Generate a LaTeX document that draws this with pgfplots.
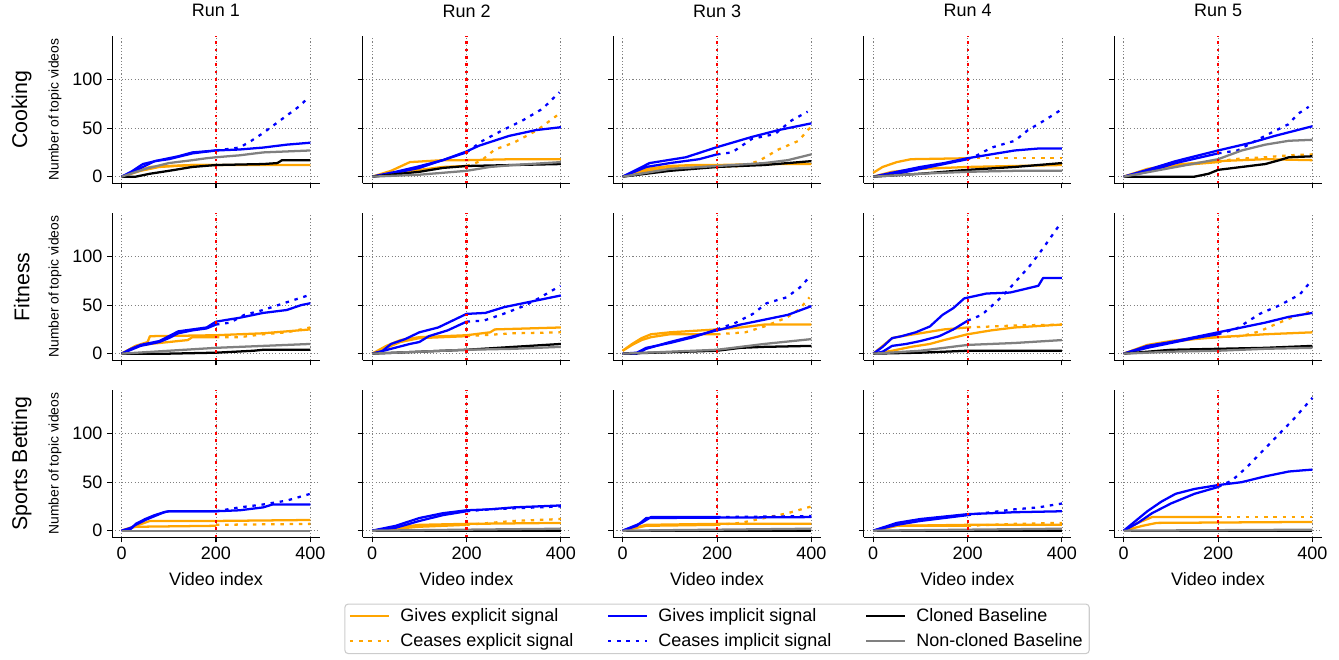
\documentclass[border=0pt]{standalone}
\usepackage{fontspec}
\setmainfont{Liberation Sans}
\usepackage{pgfplots}
\pgfplotsset{compat=1.18}
\usepgfplotslibrary{groupplots}
\definecolor{mplorange}{RGB}{255,165,0}
\definecolor{mplblue}{RGB}{0,0,255}
\definecolor{mplgray}{RGB}{128,128,128}
\definecolor{legframe}{RGB}{204,204,204}
\newcommand{\fs}{\fontsize{13.5}{16}\selectfont}
\pgfplotsset{
  ge/.style={mplorange, line width=1.7pt, line join=round, forget plot},
  ce/.style={mplorange, line width=1.7pt, dash pattern=on 2.6pt off 4.3pt, forget plot},
  gi/.style={mplblue, line width=1.7pt, line join=round, forget plot},
  ci/.style={mplblue, line width=1.7pt, dash pattern=on 2.6pt off 4.3pt, forget plot},
  cb/.style={black, line width=1.7pt, line join=round, forget plot},
  nb/.style={mplgray, line width=1.7pt, line join=round, forget plot},
  vl/.style={red, line width=1.6pt, dash pattern=on 2.1pt off 3.4pt, forget plot},
  rowlab/.style={extra description/.code={\node[rotate=90, font=\fontsize{16}{19}\selectfont] at (-0.436,0.5) {#1};}},
}
\begin{document}
\begin{tikzpicture}
\begin{groupplot}[
  group style={group size=5 by 3, horizontal sep=32.2pt, vertical sep=22.35pt,
    xticklabels at=edge bottom, yticklabels at=edge left},
  width=155.7pt, height=110.4pt, scale only axis,
  xmin=-20, xmax=420, ymin=-6.9, ymax=144.9,
  xtick={0,200,400}, ytick={0,50,100},
  axis x line*=bottom, axis y line*=left,
  axis line style={-, line width=0.8pt},
  tick align=outside, major tick length=3.75pt,
  tick style={black, line width=0.8pt},
  grid=major, grid style={mplgray, line width=0.6pt, dash pattern=on 0.8pt off 1.6pt},
  ticklabel style={font=\fs},
  /pgf/number format/assume math mode=true,
  title style={at={(0.5,1)}, anchor=center, yshift=13pt, font=\fs},
  xlabel style={at={(0.5,0)}, anchor=center, yshift=-31.3pt, font=\fs},
  ylabel style={at={(-0.2755,0.5)}, anchor=center, font=\fontsize{10.4}{12}\selectfont},
]
% ---------------- Cooking ----------------
\nextgroupplot[title={Run 1}, ylabel={Number of topic videos}, rowlab={Cooking}]
\addplot[ge] coordinates {(0,0)(30,5)(60,10)(100,11)(150,12)(200,12)(300,12)(400,12)};
\addplot[ge] coordinates {(0,0)(40,6)(80,10)(150,12)(200,12)};
\addplot[ce] coordinates {(200,12)(300,12)(400,12)};
\addplot[gi] coordinates {(0,0)(20,5)(45,13)(80,17)(120,21)(150,25)(200,27)(250,28)(300,30)(350,33)(400,35)};
\addplot[gi] coordinates {(0,0)(20,4)(45,10)(70,16)(100,18)(150,24)(200,27)};
\addplot[ci] coordinates {(200,27)(250,30)(275,37)(300,45)(325,54)(350,63)(375,72)(395,81)};
\addplot[cb] coordinates {(0,0)(30,0)(60,3)(100,6)(150,10)(200,12)(300,13)(330,14)(340,17)(400,17)};
\addplot[nb] coordinates {(0,0)(50,8)(100,14)(150,17)(180,19)(200,20)(250,22)(300,25)(350,26)(400,27)};
\addplot[vl] coordinates {(200,-6.9)(200,144.9)};

\nextgroupplot[title={Run 2}]
\addplot[ge] coordinates {(0,0)(40,6)(80,15)(150,17)(200,17)(300,18)(400,18)};
\addplot[ge] coordinates {(0,0)(50,4)(100,7)(150,10)(200,11)};
\addplot[ce] coordinates {(200,11)(230,16)(260,28)(300,35)(350,48)(397,65)};
\addplot[gi] coordinates {(0,0)(50,5)(94,10)(150,17)(200,26)(227,32)(290,42)(347,48)(400,51)};
\addplot[gi] coordinates {(0,0)(50,4)(100,9)(143,16)(200,25)};
\addplot[ci] coordinates {(200,25)(234,37)(277,48)(319,58)(361,70)(397,87)};
\addplot[cb] coordinates {(0,0)(100,5)(150,9)(200,11)(300,12)(400,13)};
\addplot[nb] coordinates {(0,0)(100,2)(200,6)(250,10)(300,12)(400,15)};
\addplot[vl] coordinates {(200,-6.9)(200,144.9)};

\nextgroupplot[title={Run 3}]
\addplot[ge] coordinates {(0,0)(50,8)(100,11)(150,12)(200,12)(300,13)(400,13)};
\addplot[ge] coordinates {(0,0)(50,6)(100,9)(200,10)};
\addplot[ce] coordinates {(200,10)(250,11)(288,16)(330,28)(373,37)(394,49)(400,51)};
\addplot[gi] coordinates {(0,0)(57,14)(134,20)(197,30)(274,41)(330,48)(400,55)};
\addplot[gi] coordinates {(0,0)(50,10)(100,14)(162,18)(200,23)};
\addplot[ci] coordinates {(200,23)(232,25)(274,39)(323,44)(358,58)(392,67)};
\addplot[cb] coordinates {(0,0)(100,6)(200,10)(300,12)(400,16)};
\addplot[nb] coordinates {(0,0)(100,8)(200,11)(300,14)(350,17)(400,23)};
\addplot[vl] coordinates {(200,-6.9)(200,144.9)};

\nextgroupplot[title={Run 4}]
\addplot[ge] coordinates {(0,0)(40,5)(100,8)(200,10)(300,11)(400,12)};
\addplot[ge] coordinates {(0,4)(20,10)(50,15)(80,18)(200,19)};
\addplot[ce] coordinates {(200,19)(400,19)};
\addplot[gi] coordinates {(0,0)(50,5)(100,10)(150,14)(200,19)(250,23)(300,27)(350,29)(400,29)};
\addplot[gi] coordinates {(0,0)(50,3)(100,8)(150,13)(200,18)};
\addplot[ci] coordinates {(200,18)(220,22)(251,30)(300,37)(328,48)(363,58)(395,68)};
\addplot[cb] coordinates {(0,0)(100,3)(200,7)(300,10)(400,14)};
\addplot[nb] coordinates {(0,0)(100,3)(200,5)(300,6)(400,6)};
\addplot[vl] coordinates {(200,-6.9)(200,144.9)};

\nextgroupplot[title={Run 5}]
\addplot[ge] coordinates {(0,0)(50,8)(100,12)(200,16)(300,18)(400,17)};
\addplot[ge] coordinates {(0,0)(50,7)(100,11)(200,15)};
\addplot[ce] coordinates {(200,15)(230,18)(300,20)(350,22)(400,23)};
\addplot[gi] coordinates {(0,0)(50,7)(110,16)(200,27)(270,35)(320,42)(400,52)};
\addplot[gi] coordinates {(0,0)(50,5)(110,14)(200,24)};
\addplot[ci] coordinates {(200,24)(241,27)(307,44)(349,54)(370,65)(392,72)};
\addplot[cb] coordinates {(0,0)(150,0)(180,3)(200,7)(250,10)(300,13)(330,17)(350,20)(400,21)};
\addplot[nb] coordinates {(0,0)(100,9)(200,18)(250,27)(300,33)(350,37)(400,38)};
\addplot[vl] coordinates {(200,-6.9)(200,144.9)};

% ---------------- Fitness ----------------
\nextgroupplot[ylabel={Number of topic videos}, rowlab={Fitness}]
\addplot[ge] coordinates {(0,0)(30,8)(55,12)(60,18)(200,19)(300,21)(350,23)(400,25)};
\addplot[ge] coordinates {(0,0)(30,8)(60,10)(100,12)(140,14)(150,17)(200,17)};
\addplot[ce] coordinates {(200,17)(250,17)(300,20)(350,22)(400,27)};
\addplot[gi] coordinates {(0,0)(20,5)(40,9)(80,13)(100,18)(120,23)(150,25)(180,27)(200,33)(250,37)(300,42)(350,45)(380,50)(400,52)};
\addplot[gi] coordinates {(0,0)(20,4)(40,8)(80,12)(100,16)(120,21)(150,24)(180,26)(200,30)};
\addplot[ci] coordinates {(200,30)(230,32)(260,40)(300,45)(350,53)(395,60)};
\addplot[cb] coordinates {(0,0)(100,0)(200,1)(280,3)(300,4)(400,4)};
\addplot[nb] coordinates {(0,0)(100,3)(200,6)(300,8)(400,10)};
\addplot[vl] coordinates {(200,-6.9)(200,144.9)};

\nextgroupplot
\addplot[ge] coordinates {(0,0)(30,8)(60,14)(100,17)(200,19)(250,22)(260,25)(400,27)};
\addplot[ge] coordinates {(0,0)(30,6)(60,12)(100,16)(200,18)};
\addplot[ce] coordinates {(200,18)(300,21)(400,22)};
\addplot[gi] coordinates {(0,0)(20,2)(40,10)(70,15)(100,22)(140,27)(200,41)(240,42)(280,48)(320,52)(350,55)(400,60)};
\addplot[gi] coordinates {(0,0)(40,5)(80,10)(100,12)(120,18)(160,24)(200,33)};
\addplot[ci] coordinates {(200,33)(236,34)(278,41)(321,49)(349,56)(399,70)};
\addplot[cb] coordinates {(0,0)(100,2)(200,4)(300,7)(400,10)};
\addplot[nb] coordinates {(0,0)(200,4)(300,5)(400,7)};
\addplot[vl] coordinates {(200,-6.9)(200,144.9)};

\nextgroupplot
\addplot[ge] coordinates {(0,3)(20,10)(40,16)(60,20)(100,22)(200,25)(250,27)(300,30)(400,30)};
\addplot[ge] coordinates {(0,3)(20,9)(40,14)(60,17)(100,20)(200,20)};
\addplot[ce] coordinates {(200,20)(260,22)(300,28)(347,37)(375,46)(396,58)};
\addplot[gi] coordinates {(0,0)(30,0)(50,5)(100,12)(150,18)(200,24)(250,30)(300,35)(350,40)(400,49)};
\addplot[gi] coordinates {(0,0)(30,1)(50,6)(100,11)(150,17)(200,25)};
\addplot[ci] coordinates {(200,25)(240,32)(276,41)(305,52)(347,58)(375,68)(396,79)};
\addplot[cb] coordinates {(0,0)(200,3)(250,6)(300,7)(400,8)};
\addplot[nb] coordinates {(0,0)(200,4)(300,10)(400,15)};
\addplot[vl] coordinates {(200,-6.9)(200,144.9)};

\nextgroupplot
\addplot[ge] coordinates {(0,0)(40,3)(80,7)(120,10)(150,14)(200,20)(250,24)(300,27)(400,30)};
\addplot[ge] coordinates {(0,0)(20,8)(40,16)(60,18)(100,21)(150,25)(200,27)};
\addplot[ce] coordinates {(200,27)(300,29)(400,30)};
\addplot[gi] coordinates {(0,0)(20,7)(40,16)(60,18)(90,22)(120,28)(147,40)(170,47)(193,57)(240,62)(290,63)(316,66)(350,70)(360,78)(400,78)};
\addplot[gi] coordinates {(0,0)(20,2)(40,8)(70,10)(100,13)(140,18)(170,25)(200,34)};
\addplot[ci] coordinates {(200,34)(230,40)(260,53)(281,63)(331,90)(359,108)(398,135)};
\addplot[cb] coordinates {(0,0)(100,1)(200,3)(400,3)};
\addplot[nb] coordinates {(0,0)(100,3)(200,9)(300,11)(400,14)};
\addplot[vl] coordinates {(200,-6.9)(200,144.9)};

\nextgroupplot
\addplot[ge] coordinates {(0,0)(50,8)(100,12)(150,15)(200,17)(300,20)(400,22)};
\addplot[ge] coordinates {(0,0)(50,9)(100,13)(150,16)(200,17)};
\addplot[ce] coordinates {(200,17)(250,18)(288,23)(320,30)(360,38)(400,44)};
\addplot[gi] coordinates {(0,0)(50,8)(100,12)(150,17)(200,22)(250,27)(300,32)(350,38)(400,42)};
\addplot[gi] coordinates {(0,0)(50,6)(100,11)(150,16)(200,20)};
\addplot[ci] coordinates {(200,20)(240,26)(288,41)(331,50)(373,61)(394,73)};
\addplot[cb] coordinates {(0,0)(100,4)(200,5)(300,6)(400,8)};
\addplot[nb] coordinates {(0,0)(100,2)(200,3)(300,5)(400,6)};
\addplot[vl] coordinates {(200,-6.9)(200,144.9)};

% ---------------- Sports Betting ----------------
\nextgroupplot[ylabel={Number of topic videos}, rowlab={Sports Betting}, xlabel={Video index}]
\addplot[ge] coordinates {(0,0)(30,5)(60,10)(200,10)(400,11)};
\addplot[ge] coordinates {(0,0)(30,4)(200,5)};
\addplot[ce] coordinates {(200,6)(400,7)};
\addplot[gi] coordinates {(0,0)(20,2)(30,7)(50,12)(70,16)(90,19)(100,20)(200,20)(250,21)(300,24)(320,27)(400,27)};
\addplot[gi] coordinates {(0,0)(20,3)(30,6)(50,11)(70,15)(90,19)(100,20)(200,20)};
\addplot[ci] coordinates {(200,20)(250,24)(300,27)(350,31)(400,38)};
\addplot[cb] coordinates {(0,0)(400,0)};
\addplot[nb] coordinates {(0,0)(400,0)};
\addplot[vl] coordinates {(200,-6.9)(200,144.9)};

\nextgroupplot[xlabel={Video index}]
\addplot[ge] coordinates {(0,0)(50,3)(100,6)(200,7)(400,8)};
\addplot[ge] coordinates {(0,0)(50,2)(100,4)(200,6)};
\addplot[ce] coordinates {(200,6)(250,8)(300,10)(400,12)};
\addplot[gi] coordinates {(0,0)(50,5)(100,13)(150,18)(200,21)(250,22)(300,24)(400,26)};
\addplot[gi] coordinates {(0,0)(50,3)(100,10)(150,16)(200,20)};
\addplot[ci] coordinates {(200,20)(250,22)(300,23)(400,25)};
\addplot[cb] coordinates {(0,0)(400,0)};
\addplot[nb] coordinates {(0,0)(200,1)(400,2)};
\addplot[vl] coordinates {(200,-6.9)(200,144.9)};

\nextgroupplot[xlabel={Video index}, legend columns=3, legend cell align=left,
  legend style={at={(0.5,-0.45)}, anchor=north, draw=legframe, line width=0.8pt,
    rounded corners=2.5pt, font=\fs, inner xsep=3pt, inner ysep=1.5pt, row sep=3.5pt,
    /tikz/every odd column/.append style={column sep=6pt},
    /tikz/every even column/.append style={column sep=23pt}},
  legend image code/.code={\draw[#1] (0pt,0pt) -- (29pt,0pt);}]
\addlegendimage{mplorange, line width=1.7pt}
\addlegendentry{Gives explicit signal}
\addlegendimage{mplblue, line width=1.7pt}
\addlegendentry{Gives implicit signal}
\addlegendimage{black, line width=1.7pt}
\addlegendentry{Cloned Baseline}
\addlegendimage{mplorange, line width=1.7pt, dash pattern=on 2.6pt off 4.3pt}
\addlegendentry{Ceases explicit signal}
\addlegendimage{mplblue, line width=1.7pt, dash pattern=on 2.6pt off 4.3pt}
\addlegendentry{Ceases implicit signal}
\addlegendimage{mplgray, line width=1.7pt}
\addlegendentry{Non-cloned Baseline}
\addplot[ge] coordinates {(0,0)(50,6)(200,7)(400,7)};
\addplot[ge] coordinates {(0,0)(50,5)(200,6)};
\addplot[ce] coordinates {(200,6)(250,8)(300,13)(350,18)(400,25)};
\addplot[gi] coordinates {(0,0)(30,5)(50,13)(400,14)};
\addplot[gi] coordinates {(0,0)(40,8)(60,14)(200,14)};
\addplot[ci] coordinates {(200,14)(400,15)};
\addplot[cb] coordinates {(0,0)(400,0)};
\addplot[nb] coordinates {(0,0)(200,1)(400,2)};
\addplot[vl] coordinates {(200,-6.9)(200,144.9)};

\nextgroupplot[xlabel={Video index}]
\addplot[ge] coordinates {(0,0)(50,5)(200,6)(400,6)};
\addplot[ge] coordinates {(0,0)(50,5)(200,5)};
\addplot[ce] coordinates {(200,5)(300,7)(400,8)};
\addplot[gi] coordinates {(0,0)(50,8)(100,12)(200,17)(300,19)(400,20)};
\addplot[gi] coordinates {(0,0)(50,6)(100,10)(200,16)};
\addplot[ci] coordinates {(200,16)(250,19)(300,22)(350,24)(400,28)};
\addplot[cb] coordinates {(0,0)(400,0)};
\addplot[nb] coordinates {(0,0)(400,2)};
\addplot[vl] coordinates {(200,-6.9)(200,144.9)};

\nextgroupplot[xlabel={Video index}]
\addplot[ge] coordinates {(0,0)(40,5)(70,8)(400,9)};
\addplot[ge] coordinates {(0,0)(30,8)(60,14)(200,14)};
\addplot[ce] coordinates {(200,14)(400,14)};
\addplot[gi] coordinates {(0,0)(20,8)(50,20)(80,30)(110,38)(150,43)(200,47)(250,50)(300,56)(350,61)(400,63)};
\addplot[gi] coordinates {(0,0)(30,8)(60,18)(100,28)(150,38)(200,45)};
\addplot[ci] coordinates {(200,45)(230,52)(260,65)(300,85)(330,100)(360,115)(400,137)};
\addplot[cb] coordinates {(0,0)(400,0)};
\addplot[nb] coordinates {(0,0)(400,1)};
\addplot[vl] coordinates {(200,-6.9)(200,144.9)};
\end{groupplot}
\path (group c1r1.north west) ++(-84.15pt,23.8pt) rectangle ++(1004.25pt,-491.25pt);
\end{tikzpicture}
\end{document}
